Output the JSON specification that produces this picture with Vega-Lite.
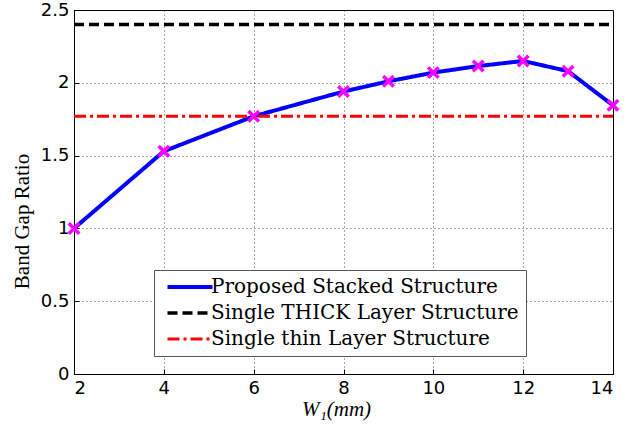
{
  "$schema": "https://vega.github.io/schema/vega-lite/v6.json",
  "width": 539,
  "height": 364,
  "autosize": {"type": "none"},
  "padding": {"left": 74, "top": 10, "right": 13, "bottom": 59},
  "background": "white",
  "config": {
    "view": {"stroke": "black", "strokeWidth": 1},
    "axis": {
      "domainColor": "black",
      "gridColor": "#000000",
      "gridDash": [1, 3],
      "gridWidth": 1,
      "gridOpacity": 0.7,
      "ticks": true,
      "tickSize": -5,
      "tickColor": "black",
      "labelFont": "DejaVu Sans",
      "labelFontSize": 18,
      "labelColor": "black",
      "titleFont": "Liberation Serif",
      "titleFontWeight": "normal",
      "titleColor": "black"
    }
  },
  "data": {
    "values": [
      {"series": "Proposed Stacked Structure", "w": 2, "ratio": 1.0},
      {"series": "Proposed Stacked Structure", "w": 4, "ratio": 1.53},
      {"series": "Proposed Stacked Structure", "w": 6, "ratio": 1.77},
      {"series": "Proposed Stacked Structure", "w": 8, "ratio": 1.94},
      {"series": "Proposed Stacked Structure", "w": 9, "ratio": 2.01},
      {"series": "Proposed Stacked Structure", "w": 10, "ratio": 2.07},
      {"series": "Proposed Stacked Structure", "w": 11, "ratio": 2.115},
      {"series": "Proposed Stacked Structure", "w": 12, "ratio": 2.15},
      {"series": "Proposed Stacked Structure", "w": 13, "ratio": 2.08},
      {"series": "Proposed Stacked Structure", "w": 14, "ratio": 1.845},
      {"series": "Single THICK Layer Structure", "w": 2, "ratio": 2.4},
      {"series": "Single THICK Layer Structure", "w": 14, "ratio": 2.4},
      {"series": "Single thin Layer Structure", "w": 2, "ratio": 1.77},
      {"series": "Single thin Layer Structure", "w": 14, "ratio": 1.77}
    ]
  },
  "encoding": {
    "x": {
      "field": "w", "type": "quantitative",
      "scale": {"domain": [2, 14], "nice": false, "zero": false},
      "axis": {"values": [2, 4, 6, 8, 10, 12, 14], "title": "W₁(mm)", "titleFontStyle": "italic", "titleFontSize": 21, "titleX": 262, "titleY": 24, "labelPadding": 10}
    },
    "y": {
      "field": "ratio", "type": "quantitative",
      "scale": {"domain": [0, 2.5], "nice": false},
      "axis": {"values": [0, 0.5, 1, 1.5, 2, 2.5], "format": "~g", "title": "Band Gap Ratio", "titleFontSize": 21, "titleX": -42, "titleY": 211, "labelPadding": 10}
    }
  },
  "layer": [
    {
      "mark": {"type": "line", "clip": true},
      "encoding": {
        "color": {
          "field": "series", "type": "nominal",
          "scale": {
            "domain": ["Proposed Stacked Structure", "Single THICK Layer Structure", "Single thin Layer Structure"],
            "range": ["#0000ff", "#000000", "#ff0000"]
          },
          "legend": {
            "title": null,
            "orient": "none",
            "legendX": 80,
            "legendY": 260,
            "direction": "vertical",
            "fillColor": "white",
            "strokeColor": "#555555",
            "padding": 7,
            "labelFont": "DejaVu Serif",
            "labelFontSize": 20,
            "labelColor": "black",
            "labelLimit": 400,
            "labelOffset": 11,
            "rowPadding": 6,
            "symbolType": "M-5,0L5,0",
            "symbolSize": 81,
            "symbolOffset": 19,
            "symbolStrokeWidth": 3.5
          }
        },
        "strokeDash": {
          "field": "series", "type": "nominal",
          "scale": {
            "domain": ["Proposed Stacked Structure", "Single THICK Layer Structure", "Single thin Layer Structure"],
            "range": [[1, 0], [10, 5], [12, 4, 3, 4]]
          },
          "legend": null
        },
        "strokeWidth": {
          "field": "series", "type": "nominal",
          "scale": {
            "domain": ["Proposed Stacked Structure", "Single THICK Layer Structure", "Single thin Layer Structure"],
            "range": [4, 3, 3]
          },
          "legend": null
        }
      }
    },
    {
      "transform": [{"filter": "datum.series === 'Proposed Stacked Structure'"}],
      "mark": {
        "type": "point",
        "shape": "M-1,-1L1,1M-1,1L1,-1",
        "filled": false,
        "stroke": "#ff00ff",
        "strokeWidth": 3.5,
        "size": 110,
        "opacity": 1,
        "clip": false
      }
    }
  ]
}
